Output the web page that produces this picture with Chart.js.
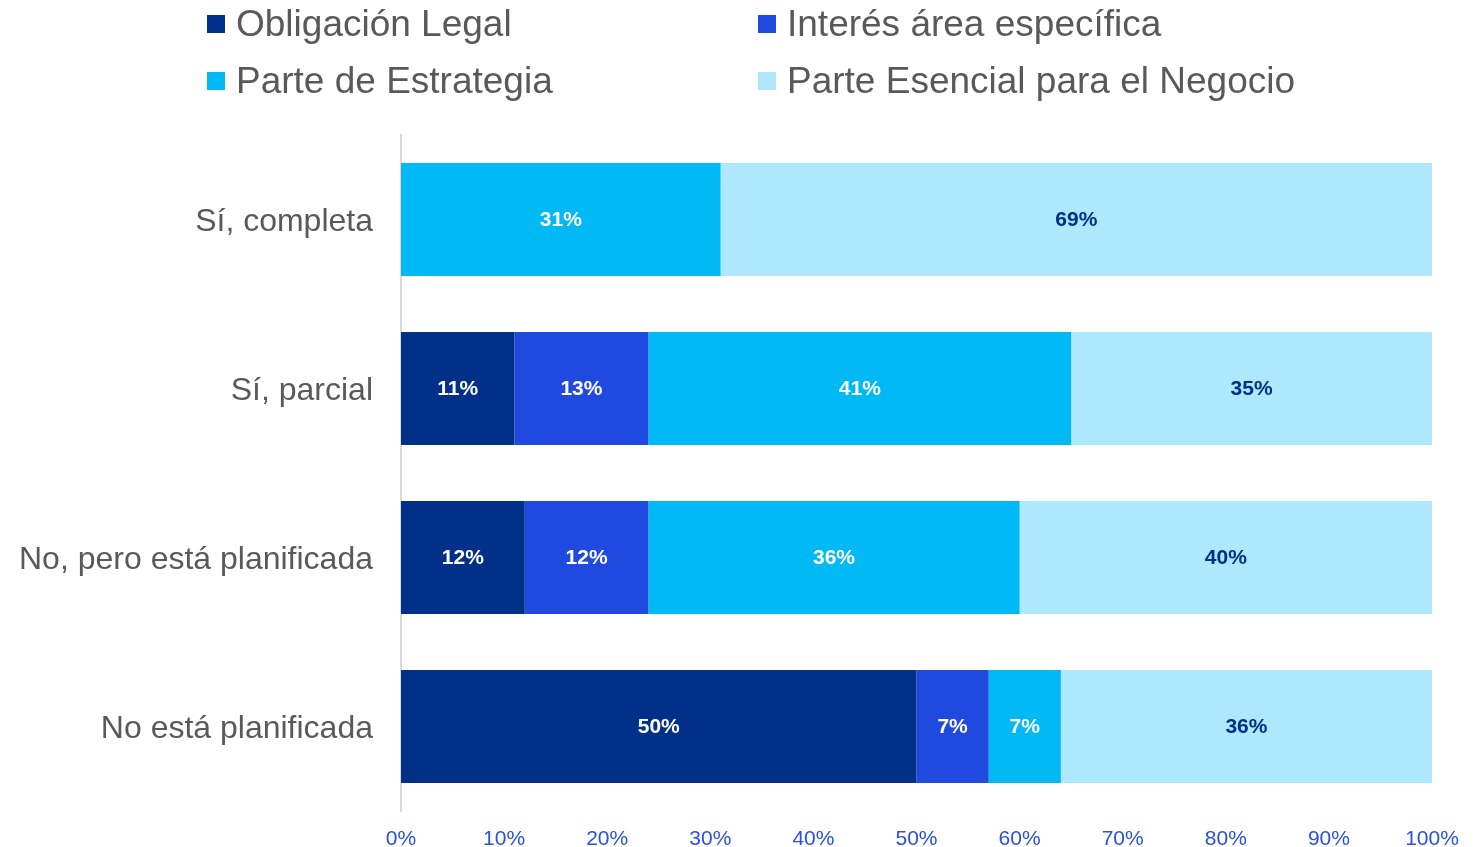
<!DOCTYPE html>
<html>
<head>
<meta charset="utf-8">
<script src="https://cdn.jsdelivr.net/npm/chart.js@4.4.1/dist/chart.umd.min.js"></script>
<style>
  html, body { margin: 0; padding: 0; background: #fff; }
  #wrap { position: relative; width: 1478px; height: 847px; }
</style>
</head>
<body>
<div id="wrap"><canvas id="chart" width="1478" height="847"></canvas></div>
<script>
const categories = ["Sí, completa", "Sí, parcial", "No, pero está planificada", "No está planificada"];
const seriesNames = ["Obligación Legal", "Interés área específica", "Parte de Estrategia", "Parte Esencial para el Negocio"];
const obligacionLegal = [0, 11, 12, 50];
const interesArea = [0, 13, 12, 7];
const parteEstrategia = [31, 41, 36, 7];
const parteEsencial = [69, 35, 40, 36];
const xTicks = [0, 10, 20, 30, 40, 50, 60, 70, 80, 90, 100];

const colors = ["#003087", "#2049E0", "#00B9F5", "#ADE8FD"];
const labelColors = ["#ffffff", "#ffffff", "#ffffff", "#003087"];
const FONT = "'Liberation Sans', Arial, sans-serif";

// value labels in the middle of each segment
const segmentLabels = {
  id: "segmentLabels",
  afterDatasetsDraw(chart) {
    const ctx = chart.ctx;
    ctx.save();
    ctx.font = "bold 21px " + FONT;
    ctx.textAlign = "center";
    ctx.textBaseline = "middle";
    chart.data.datasets.forEach((ds, i) => {
      const meta = chart.getDatasetMeta(i);
      meta.data.forEach((bar, j) => {
        const v = ds.data[j];
        if (!v) return;
        ctx.fillStyle = labelColors[i];
        ctx.fillText(v + "%", (bar.x + bar.base) / 2, bar.y + 1);
      });
    });
    ctx.restore();
  }
};

// two-column legend above the plot
const gridLegend = {
  id: "gridLegend",
  afterDraw(chart) {
    const ctx = chart.ctx;
    const cols = [207, 758];
    const rows = [24, 81];
    ctx.save();
    ctx.font = "37px " + FONT;
    ctx.textBaseline = "middle";
    ctx.textAlign = "left";
    chart.data.datasets.forEach((ds, i) => {
      const x = cols[i % 2];
      const y = rows[Math.floor(i / 2)];
      ctx.fillStyle = ds.backgroundColor;
      ctx.fillRect(x, y - 9, 18, 18);
      ctx.fillStyle = "#595959";
      ctx.fillText(ds.label, x + 29, y + 2);
    });
    ctx.restore();
  }
};

const seriesData = [obligacionLegal, interesArea, parteEstrategia, parteEsencial];

new Chart(document.getElementById("chart"), {
  type: "bar",
  data: {
    labels: categories,
    datasets: seriesNames.map((name, i) => ({
      label: name,
      data: seriesData[i],
      backgroundColor: colors[i],
      borderWidth: 0,
      barPercentage: 1,
      categoryPercentage: 0.67
    }))
  },
  options: {
    indexAxis: "y",
    responsive: false,
    animation: false,
    maintainAspectRatio: false,
    devicePixelRatio: 1,
    layout: { padding: { top: 135, right: 46, bottom: 0, left: 0 } },
    plugins: {
      legend: { display: false },
      tooltip: { enabled: false }
    },
    scales: {
      x: {
        stacked: true,
        min: 0,
        max: 100,
        afterBuildTicks: (scale) => { scale.ticks = xTicks.map(v => ({ value: v })); },
        afterFit: (scale) => { scale.height = 36; },
        grid: { display: false, drawTicks: false },
        border: { display: false },
        ticks: {
          padding: 16,
          color: "#2B50DC",
          font: { family: FONT, size: 21 },
          maxRotation: 0,
          callback: (v) => v + "%"
        }
      },
      y: {
        stacked: true,
        afterFit: (scale) => {
          scale.width = 401;
          scale.paddingTop = 0;
          scale.paddingBottom = 0;
        },
        grid: { display: false, drawTicks: false },
        border: { display: true, color: "#D9D9D9", width: 2 },
        ticks: {
          padding: 28,
          labelOffset: 3,
          color: "#595959",
          font: { family: FONT, size: 32 }
        }
      }
    }
  },
  plugins: [segmentLabels, gridLegend]
});
</script>
</body>
</html>
